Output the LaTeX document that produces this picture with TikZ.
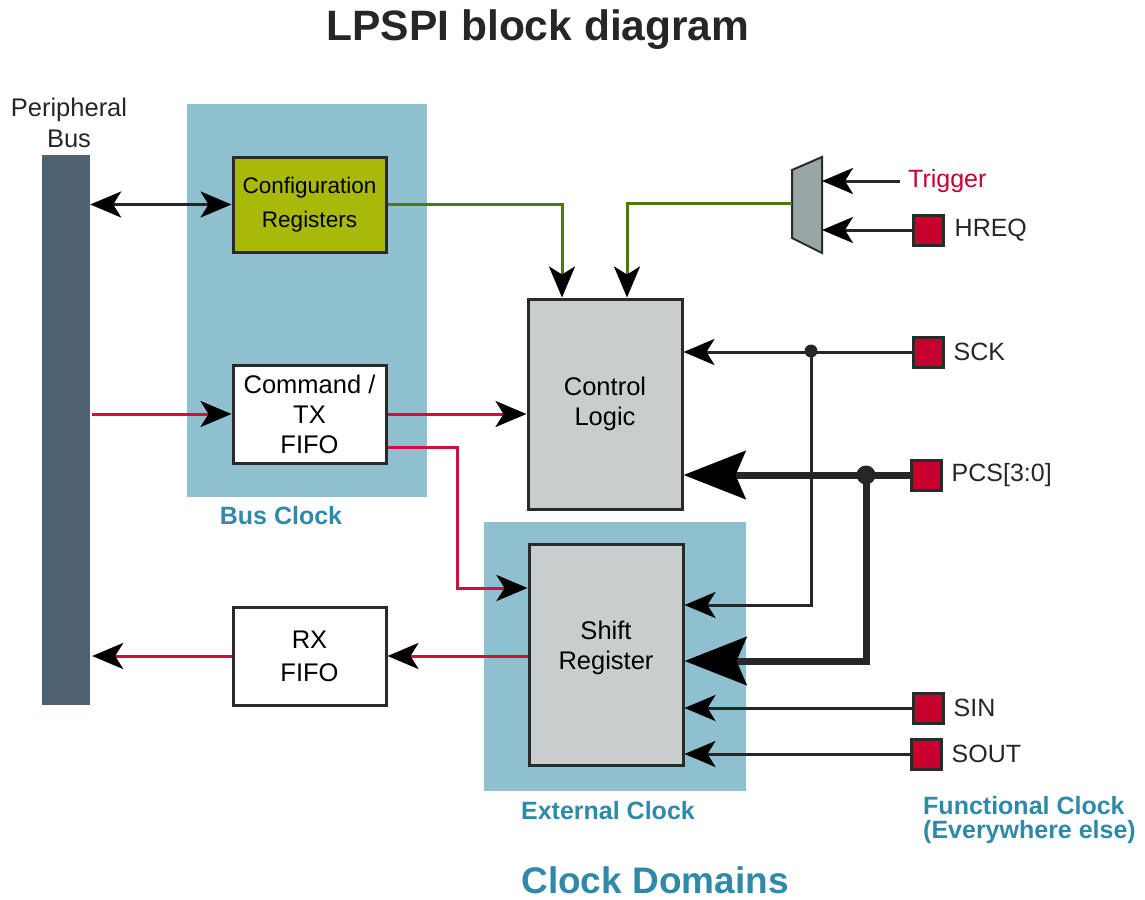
\documentclass[tikz,border=0pt]{standalone}
\usepackage{fontspec}
\setmainfont{Liberation Sans}
\usetikzlibrary{arrows.meta, positioning, calc}

\definecolor{domainblue}{HTML}{8EC0CF}
\definecolor{labelblue}{HTML}{2E8AA8}
\definecolor{busslate}{HTML}{4F6070}
\definecolor{cfggreen}{HTML}{A8B90A}
\definecolor{logicgrey}{HTML}{C8CECE}
\definecolor{muxgrey}{HTML}{9AA6A6}
\definecolor{padred}{HTML}{C8002E}
\definecolor{wirered}{HTML}{D0103A}
\definecolor{wiregreen}{HTML}{4A7A10}
\definecolor{edgegrey}{HTML}{2A2A2A}

\begin{document}
\begin{tikzpicture}[
        x=1pt, y=-1pt,
        clockzone/.style={rectangle, fill=domainblue, inner sep=0pt},
        block/.style={rectangle, draw=edgegrey, line width=3pt, align=center, inner sep=2pt, font=\fontsize{25.5}{30}\selectfont},
        pad/.style={rectangle, draw=edgegrey, line width=3pt, fill=padred, minimum size=30pt, inner sep=0pt},
        pin/.style={font=\fontsize{25}{30}\selectfont, anchor=west, inner sep=0pt, text=black!85},
        zonelabel/.style={font=\bfseries\fontsize{25}{25}\selectfont, text=labelblue, inner sep=0pt},
        wire/.style={line width=3pt, draw=black!85, -{Stealth[length=31pt, width=26pt, inset=8pt, color=black]}},
        fatwire/.style={line width=7pt, draw=black!85, -{Stealth[length=62pt, width=48pt, inset=10pt, color=black]}},
        redwire/.style={wire, draw=wirered},
        greenwire/.style={wire, draw=wiregreen}
    ]
        \useasboundingbox (0,0) rectangle (1145,899);

        % Titles
        \node[font=\bfseries\fontsize{42.5}{42}\selectfont, text=black!85] (title) at (538,30) {LPSPI block diagram};
        \node[font=\bfseries\fontsize{37}{37}\selectfont, text=labelblue] (domains) at (655,880) {Clock Domains};

        % Clock domains
        \node[clockzone, minimum width=240pt, minimum height=393pt] (buszone) at (307,300.5) {};
        \node[clockzone, minimum width=262pt, minimum height=269pt] (extzone) at (615,656.5) {};
        \node[zonelabel] (buslbl) at (281,516) {Bus Clock};
        \node[zonelabel] (extlbl) at (608,811) {External Clock};
        \node[zonelabel, align=left, anchor=west, font=\bfseries\fontsize{25}{24}\selectfont] (funclbl) at (923,820) {Functional Clock\\(Everywhere else)};

        % Peripheral bus
        \node[rectangle, fill=busslate, minimum width=48pt, minimum height=550pt, inner sep=0pt] (bus) at (66,430) {};
        \node[font=\fontsize{25.5}{31}\selectfont, align=center, text=black!85] (buslabel) at (69,123) {Peripheral\\Bus};

        % Blocks
        \node[block, fill=cfggreen, minimum width=153pt, minimum height=95pt, font=\fontsize{22.5}{34}\selectfont] (cfg) at (309.5,204.5) {Configuration\\Registers};
        \node[block, fill=white, minimum width=153pt, minimum height=98pt] (cmd) at (309.5,414) {Command /\\TX\\FIFO};
        \node[block, fill=white, minimum width=153pt, minimum height=98pt, font=\fontsize{25.5}{33}\selectfont] (rx) at (309.5,656) {RX\\FIFO};
        \node[block, fill=logicgrey, minimum width=154pt, minimum height=210pt] (ctrl) at (605,404) {Control\\Logic\\[-24pt]};
        \node[block, fill=logicgrey, minimum width=154pt, minimum height=221pt] (shift) at (606,654.5) {Shift\\Register\\[-12pt]};

        % Trigger mux
        \draw[draw=edgegrey, line width=2pt, fill=muxgrey] (792,170) -- (822,157) -- (822,253) -- (792,238) -- cycle;
        \coordinate (muxout) at (792,203);
        \coordinate (muxtrig) at (822,181);
        \coordinate (muxhreq) at (822,230);

        % Pins
        \node[pin, text=padred] (trigger) at (908,181) {Trigger};
        \node[pad] (hreq) at (928,230) {};
        \node[pad] (sck) at (928,352) {};
        \node[pad] (pcs) at (926,475) {};
        \node[pad] (sin) at (928,708) {};
        \node[pad] (sout) at (926,754) {};
        \node[pin, right=10pt of hreq] (hreqlbl) {HREQ};
        \node[pin, right=9pt of sck] (scklbl) {SCK};
        \node[pin, right=9pt of pcs] (pcslbl) {PCS[3:0]};
        \node[pin, right=9pt of sin] (sinlbl) {SIN};
        \node[pin, right=9pt of sout] (soutlbl) {SOUT};

        % Bus side
        \draw[wire, {Stealth[length=31pt, width=26pt, inset=8pt, color=black]}-{Stealth[length=31pt, width=26pt, inset=8pt, color=black]}] (bus.east |- cfg.west) -- (cfg.west);
        \draw[redwire] ([xshift=2pt]bus.east |- cmd.west) -- (cmd.west);
        \draw[redwire] (rx.west) -- ([xshift=2pt]bus.east |- rx.west);

        % Data path
        \draw[redwire] (cmd.east) -- (ctrl.west |- cmd.east);
        \draw[redwire] ([yshift=-33pt]cmd.east) -- ++(70,0) |- ([yshift=66.5pt]shift.west);
        \draw[redwire] (shift.west |- rx.east) -- (rx.east);

        % Control inputs
        \draw[greenwire] (cfg.east) -| ([xshift=-43pt]ctrl.north);
        \draw[greenwire] (muxout) -| ([xshift=22pt]ctrl.north);
        \draw[wire] ([xshift=-8pt]trigger.west) -- (muxtrig);
        \draw[wire] (hreq.west) -- (muxhreq);

        % External pins
        \coordinate (sckdot) at (811,351);
        \coordinate (pcsdot) at (866,475);
        \draw[wire] (sck.west) -- (ctrl.east |- sck.west);
        \draw[wire] (sckdot) |- ([yshift=49.5pt]shift.east);
        \draw[fatwire] (pcs.west) -- (ctrl.east |- pcs.west);
        \draw[fatwire] (pcsdot) |- ([yshift=-6.5pt]shift.east);
        \fill[black!85] (sckdot) circle (6.5);
        \fill[black!85] (pcsdot) circle (9.5);
        \draw[wire] (sin.west) -- (shift.east |- sin.west);
        \draw[wire] (sout.west) -- (shift.east |- sout.west);
    \end{tikzpicture}
\end{document}
